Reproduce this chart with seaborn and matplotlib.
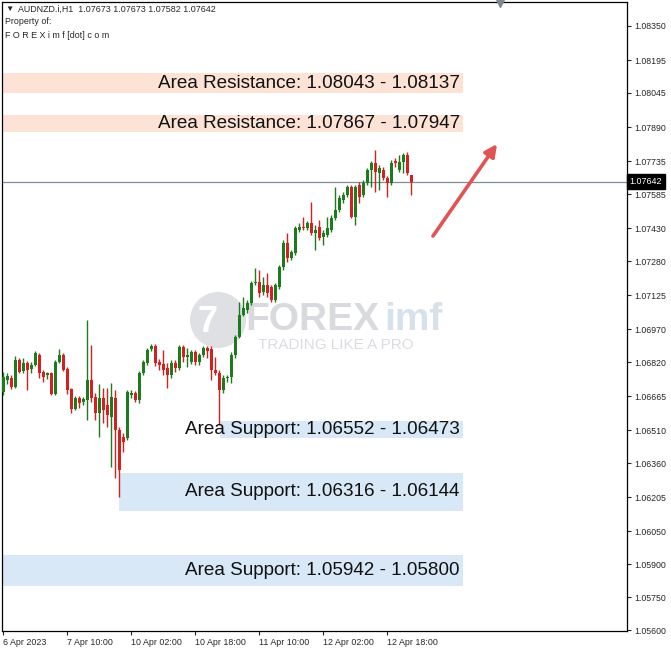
import pandas as pd
import matplotlib
matplotlib.use("Agg")
import matplotlib.pyplot as plt
import matplotlib.transforms as mtransforms
from matplotlib.patches import Ellipse
import seaborn as sns

# AUDNZD H1 candles (6 Apr 18:00 -> 13 Apr 00:00)
opens = [
    1.06685, 1.06739, 1.06748, 1.06708, 1.06830, 1.06780, 1.06816, 1.06789, 1.06807, 1.06853,
    1.06776, 1.06762, 1.06771, 1.06676, 1.06821, 1.06853, 1.06789, 1.06698, 1.06607, 1.06657,
    1.06639, 1.06648, 1.06739, 1.06662, 1.06589, 1.06657, 1.06625, 1.06571, 1.06657, 1.06512,
    1.06480, 1.06475, 1.06671, 1.06680, 1.06648, 1.06771, 1.06816, 1.06880, 1.06894, 1.06821,
    1.06812, 1.06794, 1.06762, 1.06816, 1.06794, 1.06889, 1.06844, 1.06821, 1.06867, 1.06821,
    1.06853, 1.06885, 1.06880, 1.06785, 1.06771, 1.06694, 1.06748, 1.06753, 1.06853, 1.06935,
    1.07035, 1.07058, 1.07089, 1.07180, 1.07185, 1.07140, 1.07171, 1.07162, 1.07103, 1.07162,
    1.07253, 1.07362, 1.07294, 1.07317, 1.07422, 1.07435, 1.07431, 1.07453, 1.07408, 1.07435,
    1.07390, 1.07399, 1.07422, 1.07476, 1.07513, 1.07558, 1.07581, 1.07617, 1.07481, 1.07626,
    1.07581, 1.07635, 1.07695, 1.07727, 1.07681, 1.07695, 1.07658, 1.07635, 1.07736, 1.07695,
    1.07731, 1.07763, 1.07673]
highs = [
    1.06776, 1.06771, 1.06762, 1.06849, 1.06839, 1.06839, 1.06825, 1.06821, 1.06871, 1.06862,
    1.06785, 1.06776, 1.06776, 1.06830, 1.06880, 1.06862, 1.06798, 1.06703, 1.06666, 1.06666,
    1.06662, 1.07012, 1.06898, 1.06680, 1.06721, 1.06703, 1.06703, 1.06726, 1.06694, 1.06525,
    1.06498, 1.06694, 1.06694, 1.06689, 1.06780, 1.06830, 1.06885, 1.06903, 1.06903, 1.06834,
    1.06876, 1.06816, 1.06830, 1.06830, 1.06898, 1.06898, 1.06885, 1.06876, 1.06876, 1.06862,
    1.06894, 1.06894, 1.06894, 1.06844, 1.06785, 1.06762, 1.06762, 1.06867, 1.06944, 1.07094,
    1.07117, 1.07103, 1.07190, 1.07249, 1.07240, 1.07208, 1.07226, 1.07171, 1.07180, 1.07262,
    1.07376, 1.07408, 1.07331, 1.07440, 1.07453, 1.07481, 1.07462, 1.07549, 1.07444, 1.07467,
    1.07422, 1.07481, 1.07490, 1.07617, 1.07581, 1.07595, 1.07626, 1.07626, 1.07626, 1.07640,
    1.07649, 1.07704, 1.07736, 1.07786, 1.07717, 1.07708, 1.07667, 1.07740, 1.07749, 1.07763,
    1.07772, 1.07777, 1.07673]
lows = [
    1.06671, 1.06721, 1.06698, 1.06703, 1.06771, 1.06771, 1.06694, 1.06771, 1.06803, 1.06748,
    1.06730, 1.06744, 1.06671, 1.06671, 1.06816, 1.06780, 1.06676, 1.06589, 1.06603, 1.06612,
    1.06625, 1.06557, 1.06639, 1.06557, 1.06480, 1.06543, 1.06525, 1.06344, 1.06293, 1.06207,
    1.06412, 1.06466, 1.06657, 1.06639, 1.06634, 1.06762, 1.06807, 1.06871, 1.06803, 1.06785,
    1.06762, 1.06703, 1.06748, 1.06776, 1.06785, 1.06821, 1.06798, 1.06812, 1.06807, 1.06807,
    1.06844, 1.06839, 1.06739, 1.06762, 1.06534, 1.06680, 1.06730, 1.06726, 1.06839, 1.06930,
    1.07030, 1.07044, 1.07080, 1.07171, 1.07117, 1.07126, 1.07117, 1.07094, 1.07094, 1.07153,
    1.07240, 1.07276, 1.07285, 1.07308, 1.07413, 1.07422, 1.07422, 1.07399, 1.07331, 1.07376,
    1.07353, 1.07390, 1.07413, 1.07467, 1.07504, 1.07544, 1.07572, 1.07476, 1.07444, 1.07544,
    1.07572, 1.07626, 1.07617, 1.07595, 1.07604, 1.07649, 1.07572, 1.07626, 1.07708, 1.07686,
    1.07681, 1.07672, 1.07582]
closes = [
    1.06753, 1.06758, 1.06708, 1.06830, 1.06776, 1.06816, 1.06785, 1.06807, 1.06862, 1.06771,
    1.06753, 1.06771, 1.06676, 1.06821, 1.06853, 1.06785, 1.06694, 1.06607, 1.06657, 1.06634,
    1.06653, 1.06739, 1.06657, 1.06589, 1.06657, 1.06603, 1.06580, 1.06662, 1.06512, 1.06330,
    1.06457, 1.06685, 1.06680, 1.06648, 1.06771, 1.06821, 1.06876, 1.06894, 1.06816, 1.06807,
    1.06785, 1.06762, 1.06816, 1.06794, 1.06889, 1.06844, 1.06853, 1.06867, 1.06821, 1.06853,
    1.06885, 1.06871, 1.06785, 1.06771, 1.06694, 1.06748, 1.06753, 1.06853, 1.06935, 1.07035,
    1.07067, 1.07089, 1.07180, 1.07185, 1.07135, 1.07171, 1.07135, 1.07103, 1.07171, 1.07253,
    1.07362, 1.07294, 1.07322, 1.07431, 1.07435, 1.07431, 1.07453, 1.07408, 1.07422, 1.07385,
    1.07408, 1.07431, 1.07476, 1.07513, 1.07567, 1.07581, 1.07617, 1.07481, 1.07617, 1.07572,
    1.07635, 1.07695, 1.07727, 1.07686, 1.07704, 1.07658, 1.07635, 1.07727, 1.07727, 1.07731,
    1.07763, 1.07681, 1.07642]

time_ticks = [0, 16, 32, 48, 64, 80, 96]
time_labels = ['6 Apr 2023', '7 Apr 10:00', '10 Apr 02:00', '10 Apr 18:00',
               '11 Apr 10:00', '12 Apr 02:00', '12 Apr 18:00']
price_ticks = [1.08350, 1.08195, 1.08045, 1.07890, 1.07735, 1.07585, 1.07430, 1.07280,
               1.07125, 1.06970, 1.06820, 1.06665, 1.06510, 1.06360, 1.06205, 1.06050,
               1.05900, 1.05750, 1.05600]
last_price = 1.07642

# zones: label, low, high, starting candle
zone_names = ['Area Resistance', 'Area Resistance', 'Area Support', 'Area Support', 'Area Support']
zone_lo = [1.08043, 1.07867, 1.06473, 1.06144, 1.05800]
zone_hi = [1.08137, 1.07947, 1.06552, 1.06316, 1.05942]
zone_start = [-0.3, -0.3, 54.2, 28.9, -0.3]
zone_end = 114.9

df = pd.DataFrame({'open': opens, 'high': highs, 'low': lows, 'close': closes})
df['idx'] = range(len(df))
df['up'] = df['close'] >= df['open']

sns.set_style('white')
plt.rcParams['font.family'] = ['Liberation Sans', 'DejaVu Sans']

fig = plt.figure(figsize=(6.71, 6.54), dpi=100)
ax = fig.add_axes([2 / 671, 23 / 654, 625 / 671, 629 / 654])

GREEN = '#1d7a1d'
RED = '#d42020'

# zones
for name, lo, hi, x0 in zip(zone_names, zone_lo, zone_hi, zone_start):
    col = '#fde2d6' if 'Resistance' in name else '#d8e8f7'
    ax.fill_between([x0, zone_end], lo, hi, color=col, lw=0, zorder=1)
    label = f'{name}: {hi:.5f} - {lo:.5f}' if 'Support' in name else f'{name}: {lo:.5f} - {hi:.5f}'
    ax.text(zone_end - 0.8, (lo + hi) / 2, label, ha='right', va='center',
            fontsize=13.6, color='#111111', zorder=5)

# watermark (behind the candles)
ax.add_patch(Ellipse((218 / 671, 1 - 320 / 654), 56 / 671, 56 / 654,
                     transform=fig.transFigure, color='#d3d6da', alpha=0.75, lw=0, zorder=0.5))
ax.text(208 / 671, 1 - 322 / 654, '7', fontsize=26, fontweight='bold', color='white',
        ha='center', va='center', transform=fig.transFigure, zorder=0.6)
ax.text(245 / 671, 1 - 320 / 654, 'FOREX', fontsize=28, fontweight='bold',
        color='#c3c7cd', alpha=0.65, ha='left', va='center', transform=fig.transFigure, zorder=0.6)
ax.text(384 / 671, 1 - 320 / 654, 'imf', fontsize=28, fontweight='bold',
        color='#cad8e5', alpha=0.75, ha='left', va='center', transform=fig.transFigure, zorder=0.6)
ax.text(258 / 671, 1 - 345 / 654, 'TRADING LIKE A PRO', fontsize=11,
        color='#d6d9de', alpha=0.9, ha='left', va='center', transform=fig.transFigure, zorder=0.6)

# candles
colors = [GREEN if u else RED for u in df['up']]
ax.vlines(df['idx'], df['low'], df['high'], colors=colors, lw=1.0, zorder=3)
body_lo = df[['open', 'close']].min(axis=1)
body_h = (df['close'] - df['open']).abs().clip(lower=0.00003)
ax.bar(df['idx'], body_h, bottom=body_lo, width=0.8, color=colors, lw=0, zorder=4)

# current price line
ax.axhline(last_price, color='#7f8c99', lw=0.9, zorder=2)
trans = mtransforms.blended_transform_factory(ax.transAxes, ax.transData)
ax.text(1.004, last_price, f'{last_price:.5f}', transform=trans, fontsize=6.4,
        color='white', ha='left', va='center', zorder=10,
        bbox=dict(boxstyle='square,pad=0.3', fc='black', ec='black'))

# red arrow
ax.annotate('', xy=(123.4, 1.07813), xytext=(107.4, 1.07394),
            arrowprops=dict(arrowstyle='-|>', color='#e05454', lw=2.6,
                            mutation_scale=18, shrinkA=0, shrinkB=0), zorder=6)

# chart shift marker
ax.plot([124.2], [1], marker='v', markersize=7, color='#7d8995',
        transform=mtransforms.blended_transform_factory(ax.transData, ax.transAxes),
        clip_on=False, zorder=10)

ax.set_xlim(-0.33, 155.9)
ax.set_ylim(1.05597, 1.08459)
ax.yaxis.tick_right()
ax.set_yticks(price_ticks)
ax.set_yticklabels([f'{p:.5f}' for p in price_ticks])
ax.set_xticks(time_ticks)
ax.set_xticklabels(time_labels, ha='left')
ax.tick_params(axis='y', labelsize=6.3, length=3, width=0.8, pad=2, direction='out', right=True)
ax.tick_params(axis='x', labelsize=6.4, length=3, width=0.8, pad=2, direction='out', bottom=True)
for sp in ax.spines.values():
    sp.set_color('black')
    sp.set_linewidth(0.9)

# header
fig.text(5 / 671, 1 - 9 / 654, '\u25bc', fontsize=6, va='center', ha='left')
fig.text(18 / 671, 1 - 9 / 654, 'AUDNZD.i,H1  1.07673 1.07673 1.07582 1.07642',
         fontsize=6.4, va='center', ha='left')
fig.text(5 / 671, 1 - 22 / 654, 'Property of:', fontsize=6.4, va='center', ha='left')
fig.text(5 / 671, 1 - 36 / 654, 'F O R E X i m f [dot] c o m', fontsize=6.4,
         va='center', ha='left')

fig.savefig('out.png', dpi=100)
